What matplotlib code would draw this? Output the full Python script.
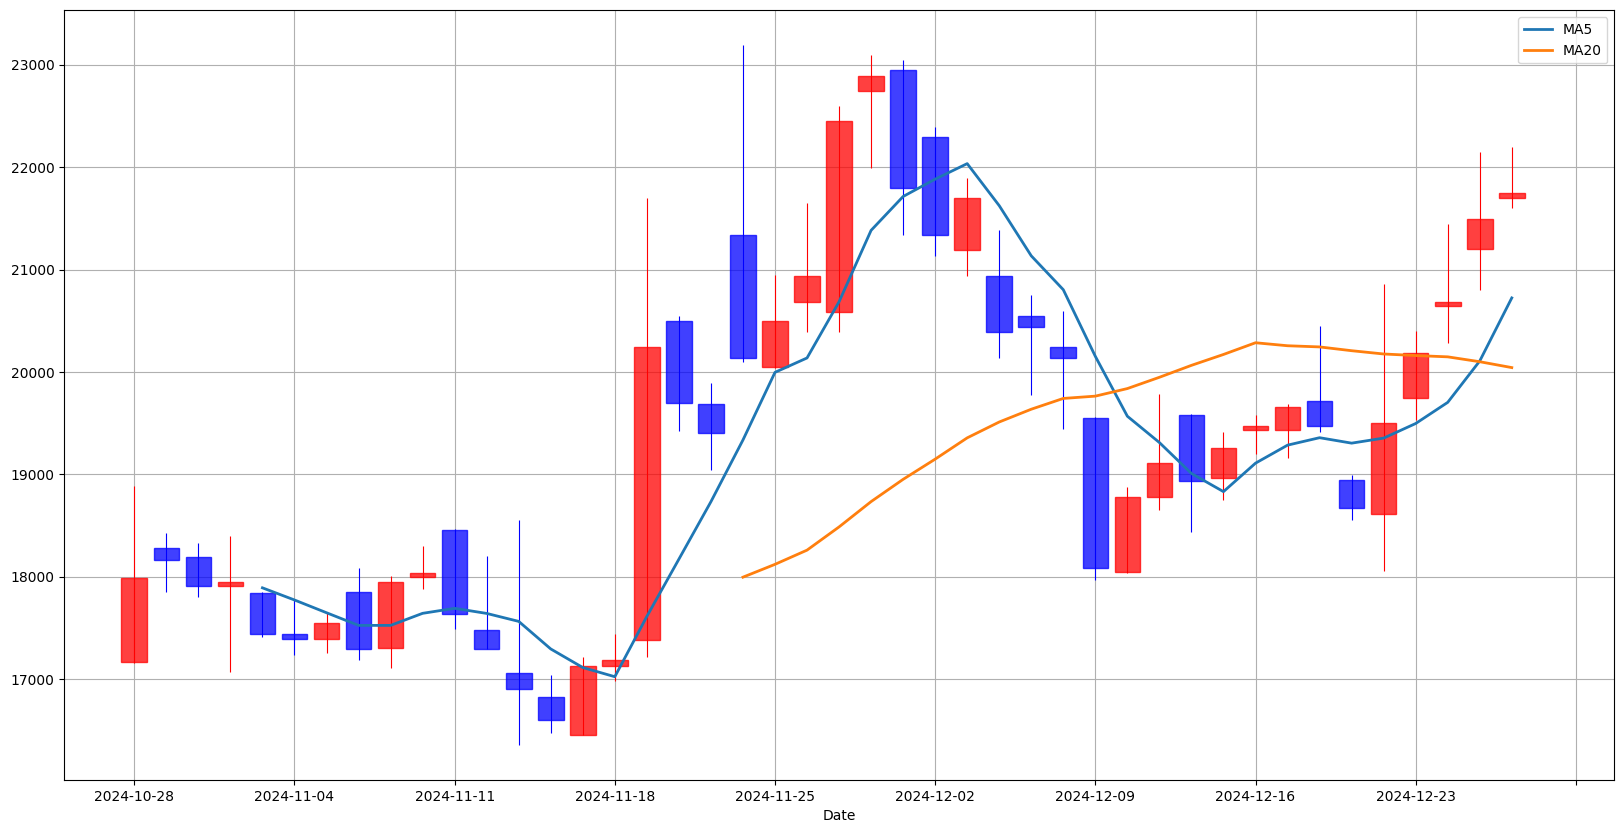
import matplotlib
matplotlib.use("Agg")
import matplotlib.pyplot as plt
import pandas as pd
import numpy as np

dates = pd.bdate_range("2024-10-28", periods=44)

opens = [17170, 18277, 18197, 17913, 17838, 17444, 17395, 17848, 17305, 17998,
         18461, 17484, 17056, 16822, 16458, 17126, 17380, 20494, 19692, 21341,
         20045, 20688, 20588, 22741, 22945, 22292, 21196, 20942, 20544, 20240,
         19547, 18042, 18775, 19577, 18964, 19433, 19431, 19712, 18948, 18610,
         19748, 20647, 21203, 21701]
highs = [18884, 18426, 18331, 18396, 17850, 17778, 17654, 18087, 18007, 18301,
         18470, 18202, 18556, 17041, 17215, 17439, 21700, 20544, 19891, 23194,
         20947, 21650, 22596, 23095, 23045, 22392, 21894, 21391, 20753, 20593,
         19560, 18874, 19786, 19590, 19413, 19582, 19691, 20449, 18995, 20855,
         20403, 21447, 22153, 22200]
lows = [17160, 17853, 17798, 17066, 17415, 17240, 17260, 17190, 17106, 17878,
        17494, 17290, 16353, 16478, 16455, 16981, 17215, 19423, 19039, 20095,
        20040, 20389, 20389, 21989, 21336, 21137, 20942, 20140, 19771, 19447,
        17968, 18035, 18655, 18441, 18745, 19203, 19156, 19410, 18558, 18060,
        19535, 20288, 20797, 21603]
closes = [17988, 18167, 17913, 17948, 17444, 17395, 17544, 17295, 17948, 18033,
          17639, 17295, 16906, 16602, 17126, 17190, 20240, 19702, 19408, 20140,
          20494, 20942, 22447, 22895, 21794, 21341, 21700, 20394, 20444, 20140,
          18087, 18775, 19109, 18934, 19253, 19477, 19655, 19473, 18668, 19499,
          20190, 20688, 21494, 21748]

df = pd.DataFrame({"Open": opens, "High": highs, "Low": lows, "Close": closes}, index=dates)
df["MA5"] = df["Close"].rolling(5).mean()
df["MA20"] = df["Close"].rolling(20).mean()

fig = plt.figure(figsize=(16.23, 8.33), dpi=100)
ax = fig.add_axes([64.3 / 1623, 1 - 780 / 833, (1614.3 - 64.3) / 1623, (780 - 10.3) / 833])

x = np.arange(len(df))
up = df["Close"].values >= df["Open"].values
cols = np.where(up, "red", "blue")

ax.vlines(x, df["Low"], df["High"], colors=cols, linewidth=0.8, zorder=2)
bottoms = np.minimum(df["Open"].values, df["Close"].values)
heights = np.abs(df["Close"].values - df["Open"].values)
for xi, b, h, c in zip(x, bottoms, heights, cols):
    ax.bar(xi, h, bottom=b, width=0.8, color=c, alpha=0.75, edgecolor=c, linewidth=1, zorder=3)

ax.plot(x, df["MA5"], color="C0", linewidth=2, label="MA5", zorder=4)
ax.plot(x, df["MA20"], color="C1", linewidth=2, label="MA20", zorder=4)

ticks = np.arange(0, 46, 5)
labels = [dates[t].strftime("%Y-%m-%d") if t < len(dates) else "" for t in ticks]
ax.set_xticks(ticks)
ax.set_xticklabels(labels)
ax.set_xlim(-2.185, 46.2)
ax.set_ylim(16015, 23533)
ax.set_xlabel("Date")
ax.grid(True)
ax.set_axisbelow(True)
ax.legend(loc="upper right")

fig.savefig("out.png", dpi=100)
